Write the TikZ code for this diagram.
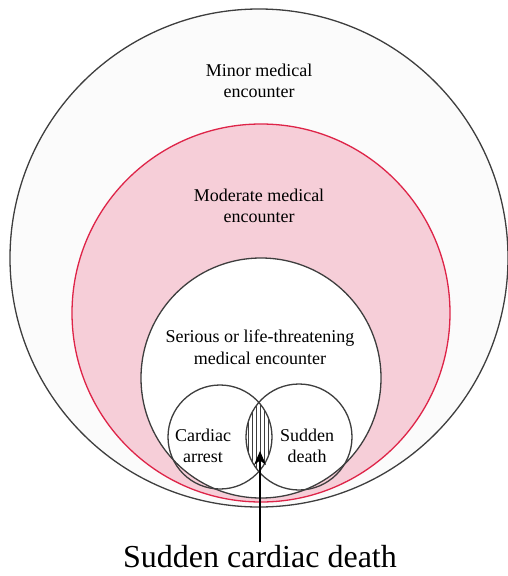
\documentclass[tikz,border=0pt]{standalone}
\usepackage{fontspec}
\setmainfont{Liberation Serif}
\newfontfamily\timesfont{Liberation Serif}
\usetikzlibrary{arrows.meta, positioning}
\definecolor{ring}{RGB}{62, 62, 62}
\definecolor{rose}{RGB}{222, 36, 72}
\definecolor{blush}{RGB}{246, 206, 216}
\definecolor{paper}{RGB}{251, 251, 251}
\tikzset{
    zone/.style={circle, draw=ring, line width=1.3pt, inner sep=0pt},
    lbl/.style={align=center, font=\timesfont\fontsize{18}{21.5}\selectfont},
    arr/.style={-{Stealth[length=14pt, width=12pt]}, line width=1.1pt, black}
}
\begin{document}
\begin{tikzpicture}[x=1pt, y=-1pt]
    \useasboundingbox (0,0) rectangle (507,576);
    % nested encounter circles
    \node[zone, fill=paper, minimum size=498pt] (minor) at (259,258) {};
    \node[zone, draw=rose, fill=blush, minimum size=378pt] (moderate) at (261,313) {};
    \node[zone, fill=white, minimum size=240pt] (serious) at (261,378) {};
    % overlap of cardiac arrest and sudden death
    \begin{scope}
        \clip (220,437) circle (52);
        \clip (299,437) circle (53);
        \foreach \x in {244,248,...,276} \draw[line width=0.8pt, ring] (\x,370) -- (\x,500);
    \end{scope}
    \node[zone, fill=none, minimum size=104pt] (arrest) at (220,437) {};
    \node[zone, fill=none, minimum size=106pt] (death) at (299,437) {};
    % labels
    \node[lbl] (minorlbl) at (259,81) {Minor medical\\encounter};
    \node[lbl] (moderatelbl) at (259,206) {Moderate medical\\encounter};
    \node[lbl] (seriouslbl) at (260,347) {Serious or life-threatening\\medical encounter};
    \node[lbl] (arrestlbl) at (203,446) {Cardiac\\arrest};
    \node[lbl] (deathlbl) at (307,446) {Sudden\\death};
    \node[font=\timesfont\fontsize{32}{36}\selectfont] (scd) at (260,557) {Sudden cardiac death};
    \coordinate (lens) at (260,451);
    \draw[arr] (scd.north) -- (lens);
\end{tikzpicture}
\end{document}
